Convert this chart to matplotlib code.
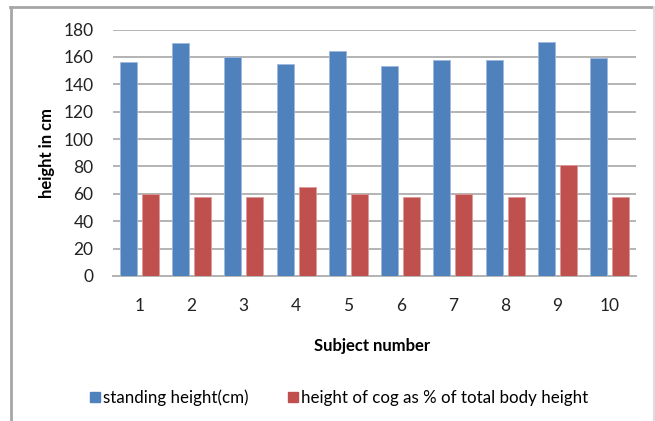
import numpy as np
import matplotlib.pyplot as plt
from matplotlib.lines import Line2D

subjects = ['1', '2', '3', '4', '5', '6', '7', '8', '9', '10']
standing_height = [156, 170, 160, 155, 164, 153.5, 158, 157.5, 171, 159]
cog_height = [60, 58, 58, 65, 60, 57.5, 60, 57.5, 81, 57.5]
yticks = [0, 20, 40, 60, 80, 100, 120, 140, 160, 180]

blue = '#4F81BD'
red = '#C0504D'
grid = '#B3B3B3'

plt.rcParams['font.family'] = ['Lato', 'DejaVu Sans']

fig = plt.figure(figsize=(6.55, 4.21), dpi=100)
ax = fig.add_axes([113 / 655, 1 - 276 / 421, (636 - 113) / 655, (276 - 29.5) / 421])

x = np.arange(len(subjects))
w = 0.325
off = 0.21
ax.bar(x - off, standing_height, w, color=blue, edgecolor='#9DB9DD', linewidth=0.6,
       label='standing height(cm)', zorder=3)
ax.bar(x + off, cog_height, w, color=red, edgecolor='#DC9A98', linewidth=0.6,
       label='height of cog as % of total body height', zorder=3)

ax.set_xlim(-0.5, len(subjects) - 0.5)
ax.set_ylim(0, 180)
ax.set_yticks(yticks)
ax.set_xticks(x)
ax.set_xticklabels(subjects)
ax.yaxis.grid(True, color=grid, linewidth=1.4, zorder=0)
for s in ['top', 'right', 'left']:
    ax.spines[s].set_visible(False)
ax.spines['bottom'].set_color(grid)
ax.spines['bottom'].set_linewidth(1.4)
ax.tick_params(axis='both', length=0, labelsize=12.5, colors='#222222')
ax.tick_params(axis='x', pad=16)
ax.tick_params(axis='y', pad=14)

ax.set_ylabel('height in cm', fontsize=12, fontweight='bold', labelpad=6)
fig.text(372 / 655, 1 - 346 / 421, 'Subject number', fontsize=12, fontweight='bold',
         ha='center', va='center')

handles = [Line2D([], [], marker='s', linestyle='none', color=blue, markersize=7),
           Line2D([], [], marker='s', linestyle='none', color=red, markersize=7)]
fig.legend(handles, ['standing height(cm)', 'height of cog as % of total body height'],
           loc='center', bbox_to_anchor=(338 / 655, 1 - 398 / 421), ncol=2, frameon=False,
           fontsize=12.2, handletextpad=0.1, columnspacing=2.2, handlelength=0.8)

# chart frame: left and top edges darker, right edge faint
fig.add_artist(Line2D([10.5 / 655, 10.5 / 655], [0, 1 - 7 / 421], color='#A6A6A6',
                      linewidth=2, transform=fig.transFigure))
fig.add_artist(Line2D([10 / 655, 1], [1 - 7 / 421, 1 - 7 / 421], color='#A6A6A6',
                      linewidth=2, transform=fig.transFigure))
fig.add_artist(Line2D([653.5 / 655, 653.5 / 655], [0, 1 - 7 / 421], color='#DDDDDD',
                      linewidth=1.5, transform=fig.transFigure))

fig.savefig('out.png', dpi=100)
